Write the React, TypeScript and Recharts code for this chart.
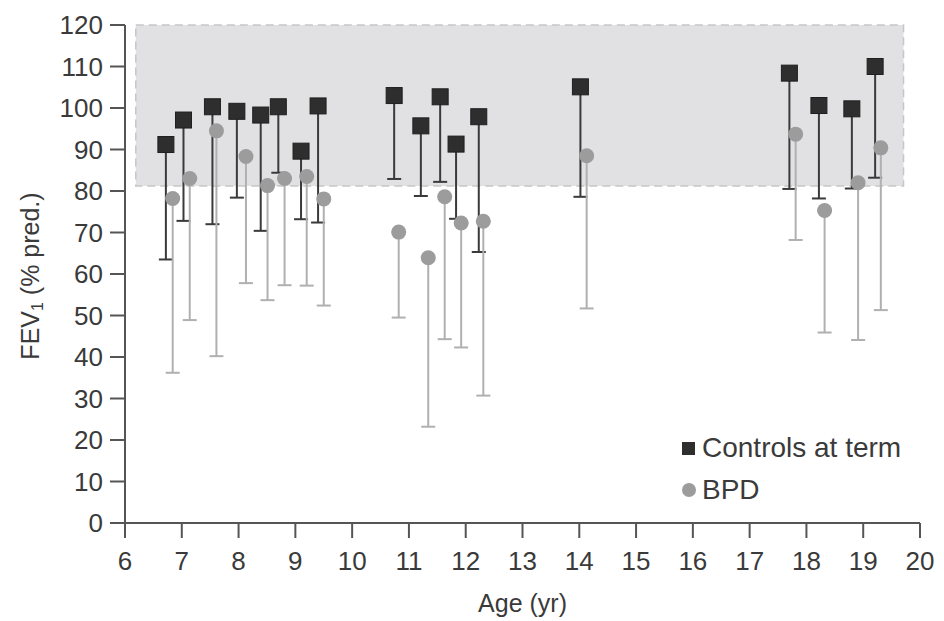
import React from "react";
import {
  ComposedChart,
  Scatter,
  XAxis,
  YAxis,
  ErrorBar,
  ReferenceArea,
  Legend,
} from "recharts";

// Controls at term
const controlAges = [6.72, 7.03, 7.54, 7.97, 8.39, 8.7, 9.1, 9.4, 10.74, 11.21, 11.55, 11.83, 12.23, 14.02, 17.7, 18.22, 18.8, 19.21];
const controlValues = [91.2, 97.1, 100.3, 99.2, 98.3, 100.3, 89.6, 100.5, 103.0, 95.7, 102.7, 91.3, 97.9, 105.1, 108.4, 100.6, 99.8, 110.0];
const controlLows = [63.5, 72.8, 72.0, 78.4, 70.4, 84.4, 73.2, 72.4, 82.9, 78.8, 82.2, 73.3, 65.3, 78.6, 80.5, 78.2, 80.6, 83.2];

// BPD
const bpdAges = [6.84, 7.14, 7.61, 8.13, 8.51, 8.81, 9.2, 9.5, 10.82, 11.34, 11.63, 11.92, 12.31, 14.13, 17.81, 18.32, 18.91, 19.31];
const bpdValues = [78.2, 83.0, 94.5, 88.3, 81.3, 83.0, 83.5, 78.1, 70.1, 63.9, 78.6, 72.3, 72.7, 88.5, 93.7, 75.3, 82.0, 90.4];
const bpdLows = [36.2, 48.9, 40.2, 57.8, 53.7, 57.3, 57.2, 52.4, 49.5, 23.2, 44.3, 42.3, 30.7, 51.7, 68.2, 45.9, 44.1, 51.3];

// Axis ticks
const xTicks = [6, 7, 8, 9, 10, 11, 12, 13, 14, 15, 16, 17, 18, 19, 20];
const yTicks = [0, 10, 20, 30, 40, 50, 60, 70, 80, 90, 100, 110, 120];

// Normal range band
const bandX = [6.19, 19.71];
const bandY = [81.2, 120];

const controlData = controlAges.map((a, i) => ({
  x: a,
  y: controlValues[i],
  err: [controlValues[i] - controlLows[i], 0],
}));
const bpdData = bpdAges.map((a, i) => ({
  x: a,
  y: bpdValues[i],
  err: [bpdValues[i] - bpdLows[i], 0],
}));

const FONT = "'Liberation Sans', Arial, Helvetica, sans-serif";
const TEXT = "#3a3a3a";
const CTRL = "#2e2e2e";
const BPD = "#9c9c9c";

const NoShape = () => <g />;

const SquareShape = (props: any) => {
  const { cx, cy } = props;
  if (cx == null || cy == null) return null;
  return <rect x={cx - 8} y={cy - 8} width={16} height={16} fill={CTRL} stroke="#1f1f1f" strokeWidth={1} />;
};

const CircleShape = (props: any) => {
  const { cx, cy } = props;
  if (cx == null || cy == null) return null;
  return <circle cx={cx} cy={cy} r={7.5} fill={BPD} />;
};

const YLabel = (props: any) => {
  const vb = props.viewBox || { x: 0, y: 25, width: 125, height: 498 };
  const cx = 30;
  const cy = vb.y + vb.height / 2 + 2;
  return (
    <text
      x={cx}
      y={cy}
      transform={`rotate(-90 ${cx} ${cy})`}
      textAnchor="middle"
      dominantBaseline="central"
      fontSize={25}
      fontFamily={FONT}
      fill={TEXT}
    >
      FEV
      <tspan fontSize={16} dy={7}>1</tspan>
      <tspan dy={-7}> (% pred.)</tspan>
    </text>
  );
};

const LegendContent = () => (
  <div style={{ fontFamily: FONT, fontSize: 28, color: TEXT, lineHeight: "42px", whiteSpace: "nowrap" }}>
    <div style={{ display: "flex", alignItems: "center" }}>
      <span style={{ display: "inline-block", width: 13, height: 13, background: CTRL, marginRight: 7 }} />
      Controls at term
    </div>
    <div style={{ display: "flex", alignItems: "center" }}>
      <span style={{ display: "inline-block", width: 14, height: 14, borderRadius: 7, background: BPD, marginRight: 6 }} />
      BPD
    </div>
  </div>
);

export default function App() {
  return (
    <div style={{ position: "absolute", left: 0, top: 0, background: "#fff" }}>
      <ComposedChart width={944} height={621} margin={{ top: 25, right: 24, bottom: 0, left: 0 }}>
        <ReferenceArea
          x1={bandX[0]}
          x2={bandX[1]}
          y1={bandY[0]}
          y2={bandY[1]}
          fill="#e1e1e3"
          fillOpacity={1}
          stroke="#c6c6c8"
          strokeDasharray="8 5"
          strokeWidth={1.5}
          ifOverflow="visible"
        />
        <XAxis
          type="number"
          dataKey="x"
          domain={[6, 20]}
          ticks={xTicks}
          allowDataOverflow
          height={98}
          tickSize={15}
          tickMargin={14}
          stroke="#555"
          strokeWidth={2}
          tick={{ fontSize: 26, fontFamily: FONT, fill: TEXT }}
          label={{ value: "Age (yr)", position: "insideBottom", offset: 9, fontSize: 25, fontFamily: FONT, fill: TEXT }}
        />
        <YAxis
          type="number"
          dataKey="y"
          domain={[0, 120]}
          ticks={yTicks}
          width={125}
          tickSize={15}
          tickMargin={7}
          stroke="#555"
          strokeWidth={2}
          tick={{ fontSize: 26, fontFamily: FONT, fill: TEXT }}
          label={<YLabel />}
        />
        {/* error bars first, markers drawn on top */}
        <Scatter data={controlData} dataKey="y" shape={<NoShape />} legendType="none" isAnimationActive={false}>
          <ErrorBar dataKey="err" direction="y" width={7} stroke="#3a3a3a" strokeWidth={2} isAnimationActive={false} />
        </Scatter>
        <Scatter data={bpdData} dataKey="y" shape={<NoShape />} legendType="none" isAnimationActive={false}>
          <ErrorBar dataKey="err" direction="y" width={7} stroke="#b0b0b0" strokeWidth={2} isAnimationActive={false} />
        </Scatter>
        <Scatter name="Controls at term" data={controlData} dataKey="y" shape={<SquareShape />} isAnimationActive={false} />
        <Scatter name="BPD" data={bpdData} dataKey="y" shape={<CircleShape />} isAnimationActive={false} />
        <Legend
          layout="vertical"
          align="center"
          verticalAlign="middle"
          content={<LegendContent />}
          wrapperStyle={{ position: "absolute", left: 682, top: 427, width: 260 }}
        />
      </ComposedChart>
    </div>
  );
}
